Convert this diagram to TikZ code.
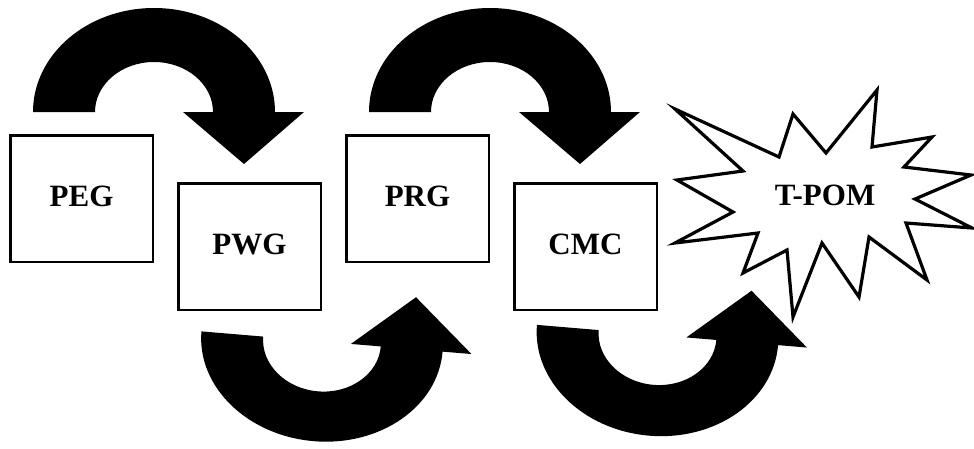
\documentclass[tikz,border=0pt]{standalone}
\usepackage{fontspec}
\setmainfont{Liberation Serif}
\tikzset{
  box/.style={draw, line width=2.5pt, minimum width=142.5pt, minimum height=126.5pt,
    inner sep=0pt, font=\fontsize{31}{31}\selectfont\bfseries, text depth=5pt},
  label text/.style={inner sep=0pt, font=\fontsize{31}{31}\selectfont\bfseries},
  burst/.style={draw, line width=3.2pt, line join=miter, fill=white},
  bigarrow/.style={fill=black, draw=none}
}
\newcommand\myuarrow[1]{%
  \fill[bigarrow] (-121,0) arc[start angle=180, end angle=360, x radius=121, y radius=#1]
    -- (150,0) -- (90,52) -- (29,0) -- (59,0)
    arc[start angle=0, end angle=-180, x radius=59, y radius=50] -- cycle;}
\begin{document}
\begin{tikzpicture}[x=1pt, y=1pt, yscale=-1]
  \useasboundingbox (0,0) rectangle (974,448);
  % boxes
  \node[box] (peg) at (81.5,198.5) {PEG};
  \node[box] (pwg) at (249.5,246.5) {PWG};
  \node[box] (prg) at (417.5,198.5) {PRG};
  \node[box] (cmc) at (585.5,246.5) {CMC};
  % top arrows
  \begin{scope}[shift={(154,112)}]\myuarrow{104}\end{scope}
  \begin{scope}[shift={(490,112)}]\myuarrow{104}\end{scope}
  % bottom arrows
  \begin{scope}[shift={(322,341.5)}, rotate=4.8, yscale=-1]\myuarrow{100}\end{scope}
  \begin{scope}[shift={(657.5,335)}, rotate=4.8, yscale=-1]\myuarrow{101}\end{scope}
  % explosion
  \draw[burst] (877,90) -- (872,147) -- (932,137) -- (904,167) -- (971,175)
    -- (915,199) -- (972,228) -- (906,223) -- (927,280) -- (869,237)
    -- (859,297) -- (822,243) -- (793,317) -- (787,250) -- (743,273)
    -- (758,233) -- (675,243) -- (733,212) -- (677,180) -- (743,171)
    -- (675,109) -- (779,157) -- (793,114) -- (826,153) -- cycle;
  \node[label text] (tpom) at (825,195) {T-POM};
\end{tikzpicture}
\end{document}
